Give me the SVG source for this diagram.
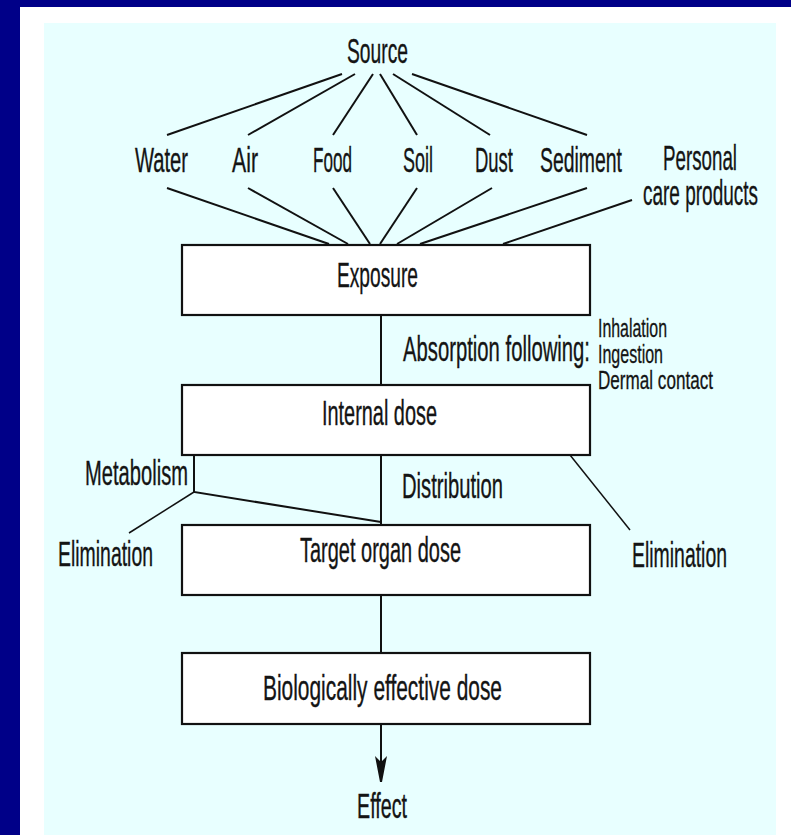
<svg xmlns="http://www.w3.org/2000/svg" width="791" height="835" viewBox="0 0 791 835">
  <style>
    .lbl { font-family: "Liberation Sans", Arial, sans-serif; font-size: 35px; fill: #141414; stroke: #141414; stroke-width: 0.35; }
    .sm { font-family: "Liberation Sans", Arial, sans-serif; font-size: 25px; fill: #141414; stroke: #141414; stroke-width: 0.3; }
    .box { fill: #ffffff; stroke: #111111; stroke-width: 2.2; }
    .ln { stroke: #111111; stroke-width: 2; fill: none; }
    .thin { stroke: #111111; stroke-width: 1.5; fill: none; }
  </style>
  <defs>
    <!-- barbed arrowhead, drawn along +x so orient="auto" points it down the line -->
    <marker id="arrow" markerUnits="userSpaceOnUse" markerWidth="28" markerHeight="14" refX="26" refY="7" orient="auto" viewBox="0 0 28 14">
      <path d="M0,1 L6,7 L0,13 L26,8 L26,6 Z" fill="#111111"/>
    </marker>
  </defs>

  <!-- frame -->
  <rect x="0" y="0" width="791" height="835" fill="#000088"/>
  <rect x="20" y="7" width="771" height="828" fill="#ffffff"/>
  <rect x="44" y="23" width="732" height="812" fill="#e8ffff"/>

  <!-- connectors -->
  <g id="connectors">
    <!-- source to media -->
    <line class="ln" x1="342" y1="74" x2="167" y2="135"/>
    <line class="ln" x1="355" y1="74" x2="248" y2="135"/>
    <line class="ln" x1="373" y1="74" x2="333" y2="135"/>
    <line class="ln" x1="380" y1="74" x2="417" y2="135"/>
    <line class="ln" x1="393" y1="74" x2="490" y2="135"/>
    <line class="ln" x1="412" y1="74" x2="587" y2="135"/>
    <!-- media to exposure -->
    <line class="ln" x1="167" y1="188" x2="329" y2="244"/>
    <line class="ln" x1="248" y1="188" x2="348" y2="244"/>
    <line class="ln" x1="333" y1="188" x2="370" y2="244"/>
    <line class="ln" x1="417" y1="188" x2="380" y2="244"/>
    <line class="ln" x1="492" y1="188" x2="397" y2="244"/>
    <line class="ln" x1="587" y1="188" x2="420" y2="244"/>
    <line class="ln" x1="632" y1="200" x2="503" y2="244"/>
    <!-- main chain -->
    <line class="ln" x1="381" y1="315" x2="381" y2="385"/>
    <line class="ln" x1="381" y1="455" x2="381" y2="525"/>
    <line class="ln" x1="381" y1="595" x2="381" y2="653"/>
    <line class="ln" x1="381" y1="724" x2="381" y2="782" marker-end="url(#arrow)"/>
    <!-- metabolism branch -->
    <polyline class="ln" points="194,455 194,492 381,522"/>
    <line class="thin" x1="194" y1="492" x2="129" y2="533"/>
    <!-- elimination from internal dose -->
    <line class="thin" x1="570" y1="455" x2="630" y2="530"/>
  </g>

  <g id="source"><text class="lbl" x="347" y="63" textLength="61" lengthAdjust="spacingAndGlyphs">Source</text></g>
  <g id="water"><text class="lbl" x="135" y="172" textLength="53" lengthAdjust="spacingAndGlyphs">Water</text></g>
  <g id="air"><text class="lbl" x="232" y="172" textLength="26" lengthAdjust="spacingAndGlyphs">Air</text></g>
  <g id="food"><text class="lbl" x="313" y="172" textLength="39" lengthAdjust="spacingAndGlyphs">Food</text></g>
  <g id="soil"><text class="lbl" x="403" y="172" textLength="30" lengthAdjust="spacingAndGlyphs">Soil</text></g>
  <g id="dust"><text class="lbl" x="475" y="172" textLength="38" lengthAdjust="spacingAndGlyphs">Dust</text></g>
  <g id="sediment"><text class="lbl" x="540" y="172" textLength="82" lengthAdjust="spacingAndGlyphs">Sediment</text></g>
  <g id="personal-care">
    <text class="lbl" x="663" y="170" textLength="74" lengthAdjust="spacingAndGlyphs">Personal</text>
    <text class="lbl" x="643" y="205" textLength="115" lengthAdjust="spacingAndGlyphs">care products</text>
  </g>

  <g id="exposure">
    <rect class="box" x="182" y="245" width="408" height="70"/>
    <text class="lbl" x="337" y="287" textLength="81" lengthAdjust="spacingAndGlyphs">Exposure</text>
  </g>

  <g id="absorption">
    <text class="lbl" x="403" y="361" textLength="187" lengthAdjust="spacingAndGlyphs">Absorption following:</text>
    <text class="sm" x="598" y="337" textLength="69" lengthAdjust="spacingAndGlyphs">Inhalation</text>
    <text class="sm" x="598" y="363" textLength="65" lengthAdjust="spacingAndGlyphs">Ingestion</text>
    <text class="sm" x="598" y="389" textLength="115" lengthAdjust="spacingAndGlyphs">Dermal contact</text>
  </g>

  <g id="internal-dose">
    <rect class="box" x="182" y="385" width="408" height="70"/>
    <text class="lbl" x="322" y="425" textLength="115" lengthAdjust="spacingAndGlyphs">Internal dose</text>
  </g>

  <g id="metabolism"><text class="lbl" x="85" y="485" textLength="103" lengthAdjust="spacingAndGlyphs">Metabolism</text></g>
  <g id="distribution"><text class="lbl" x="402" y="498" textLength="101" lengthAdjust="spacingAndGlyphs">Distribution</text></g>
  <g id="elimination-left"><text class="lbl" x="58" y="566" textLength="95" lengthAdjust="spacingAndGlyphs">Elimination</text></g>
  <g id="elimination-right"><text class="lbl" x="632" y="567" textLength="95" lengthAdjust="spacingAndGlyphs">Elimination</text></g>

  <g id="target-organ-dose">
    <rect class="box" x="182" y="525" width="408" height="70"/>
    <text class="lbl" x="300" y="562" textLength="161" lengthAdjust="spacingAndGlyphs">Target organ dose</text>
  </g>

  <g id="biologically-effective-dose">
    <rect class="box" x="182" y="653" width="408" height="71"/>
    <text class="lbl" x="263" y="700" textLength="239" lengthAdjust="spacingAndGlyphs">Biologically effective dose</text>
  </g>

  <g id="effect"><text class="lbl" x="357" y="818" textLength="50" lengthAdjust="spacingAndGlyphs">Effect</text></g>
</svg>
